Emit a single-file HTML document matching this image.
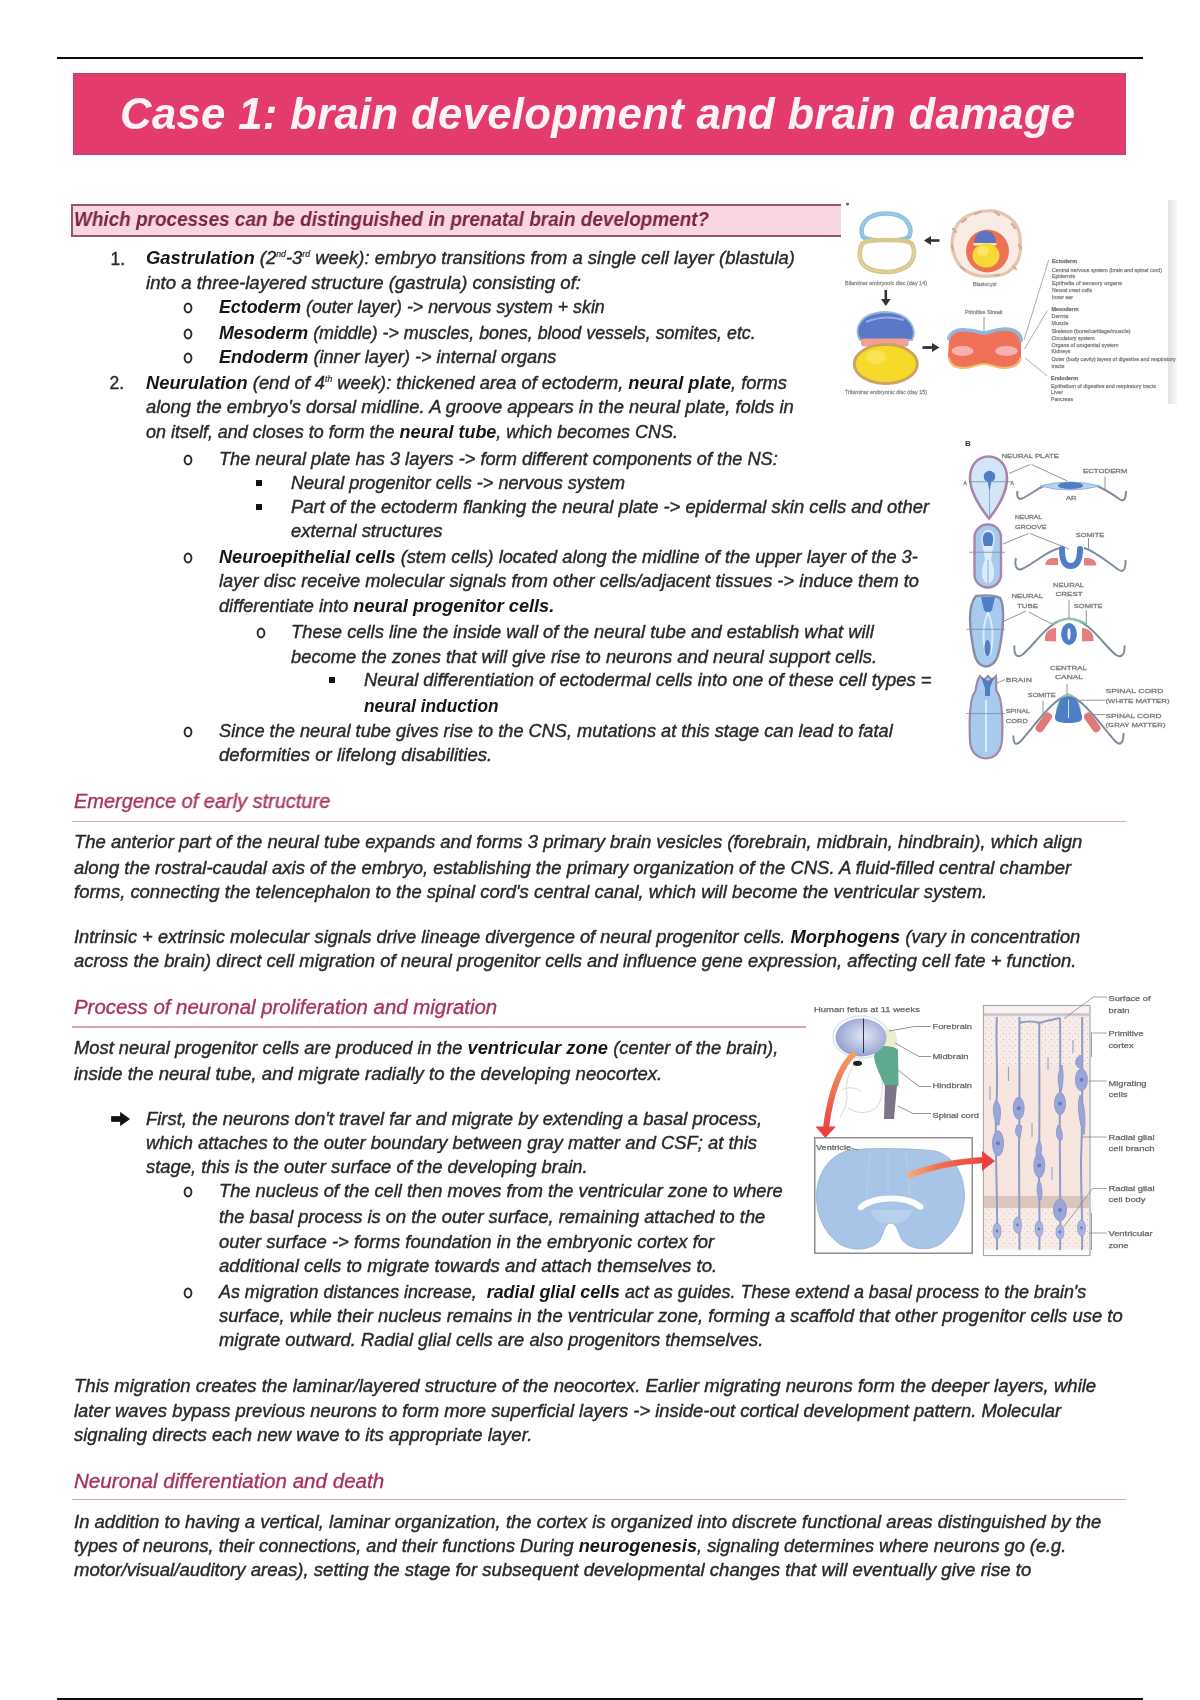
<!DOCTYPE html><html><head><meta charset="utf-8"><title>Case 1</title><style>
*{margin:0;padding:0;box-sizing:border-box}
html,body{width:1200px;height:1700px;background:#fff;overflow:hidden}
body{position:relative;font-family:"Liberation Sans",sans-serif;color:#2a2a2a}
#pg{position:absolute;left:0;top:0;width:1200px;height:1700px;will-change:transform}
.l{position:absolute;white-space:nowrap;font-style:italic;font-size:18px;line-height:20px;transform-origin:0 0;-webkit-text-stroke:0.4px #2a2a2a}
.l b{color:#161616;font-weight:bold;-webkit-text-stroke:0}
.l sup{font-size:8.5px;position:relative;top:-7px;vertical-align:baseline;line-height:0;-webkit-text-stroke:0.2px #2a2a2a}
.bu{position:absolute;white-space:nowrap;font-size:17.5px;line-height:20px;color:#2a2a2a;-webkit-text-stroke:0.35px #2a2a2a}
.hd{position:absolute;white-space:nowrap;font-style:italic;font-size:19px;line-height:20px;color:#B2375F;transform-origin:0 0}
.h2{font-size:20px;-webkit-text-stroke:0.35px #A8345C;color:#A8345C}
.ul{position:absolute;height:1.5px;background:#D6A4B6}
</style></head><body><div id="pg">
<div style="position:absolute;left:57px;top:57px;width:1086px;height:2px;background:#0a0a0a"></div>
<div style="position:absolute;left:57px;top:1698px;width:1086px;height:2px;background:#0a0a0a"></div>
<div style="position:absolute;left:73px;top:73px;width:1053px;height:82px;background:#E33C6C;border:1px solid #C0416A"></div>
<div id="title" class="hd" style="left:120px;top:88.75px;font-size:44.5px;line-height:50px;font-weight:bold;color:#FDF3F6;letter-spacing:0.3px;transform:scaleX(0.9829)">Case 1: brain development and brain damage</div>
<div style="position:absolute;left:71px;top:204.3px;width:770px;height:32.5px;background:#F7D6DF;border-top:2px solid #9A5470;border-bottom:2px solid #9A5470;border-left:2px solid #9A5470"></div>
<div id="q" class="hd" style="left:74px;top:209.20px;font-weight:bold;color:#7A2443;font-size:19.5px;transform:scaleX(0.9703)">Which processes can be distinguished in prenatal brain development?</div>
<div id="l0" class="l" style="left:146.00px;top:248.26px;transform:scaleX(1.0248)"><b>Gastrulation</b> (2<sup>nd</sup>-3<sup>rd</sup> week): embryo transitions from a single cell layer (blastula)</div>
<div id="l1" class="l" style="left:146.00px;top:272.51px;transform:scaleX(1.0328)">into a three-layered structure (gastrula) consisting of:</div>
<div id="l2" class="l" style="left:218.75px;top:296.76px;transform:scaleX(0.9887)"><b>Ectoderm</b> (outer layer) -&gt; nervous system + skin</div>
<div id="l3" class="l" style="left:218.75px;top:322.96px;transform:scaleX(0.9908)"><b>Mesoderm</b> (middle) -&gt; muscles, bones, blood vessels, somites, etc.</div>
<div id="l4" class="l" style="left:218.75px;top:347.06px;transform:scaleX(1.0048)"><b>Endoderm</b> (inner layer) -&gt; internal organs</div>
<div id="l5" class="l" style="left:146.00px;top:372.96px;transform:scaleX(1.0169)"><b>Neurulation</b> (end of 4<sup>th</sup> week): thickened area of ectoderm, <b>neural plate</b>, forms</div>
<div id="l6" class="l" style="left:146.00px;top:396.96px;transform:scaleX(1.0225)">along the embryo's dorsal midline. A groove appears in the neural plate, folds in</div>
<div id="l7" class="l" style="left:146.00px;top:421.76px;transform:scaleX(0.9977)">on itself, and closes to form the <b>neural tube</b>, which becomes CNS.</div>
<div id="l8" class="l" style="left:218.75px;top:448.76px;transform:scaleX(1.0108)">The neural plate has 3 layers -&gt; form different components of the NS:</div>
<div id="l9" class="l" style="left:291.00px;top:472.51px;transform:scaleX(1.0041)">Neural progenitor cells -&gt; nervous system</div>
<div id="l10" class="l" style="left:291.00px;top:496.56px;transform:scaleX(1.0227)">Part of the ectoderm flanking the neural plate -&gt; epidermal skin cells and other</div>
<div id="l11" class="l" style="left:291.00px;top:521.26px;transform:scaleX(1.0232)">external structures</div>
<div id="l12" class="l" style="left:218.75px;top:547.01px;transform:scaleX(1.0093)"><b>Neuroepithelial cells</b> (stem cells) located along the midline of the upper layer of the 3-</div>
<div id="l13" class="l" style="left:218.75px;top:571.26px;transform:scaleX(1.0148)">layer disc receive molecular signals from other cells/adjacent tissues -&gt; induce them to</div>
<div id="l14" class="l" style="left:218.75px;top:595.56px;transform:scaleX(1.0094)">differentiate into <b>neural progenitor cells.</b></div>
<div id="l15" class="l" style="left:291.00px;top:621.96px;transform:scaleX(1.0200)">These cells line the inside wall of the neural tube and establish what will</div>
<div id="l16" class="l" style="left:291.00px;top:646.56px;transform:scaleX(1.0186)">become the zones that will give rise to neurons and neural support cells.</div>
<div id="l17" class="l" style="left:363.75px;top:670.01px;transform:scaleX(1.0229)">Neural differentiation of ectodermal cells into one of these cell types =</div>
<div id="l18" class="l" style="left:363.75px;top:696.26px;transform:scaleX(0.9610)"><b>neural induction</b></div>
<div id="l19" class="l" style="left:218.75px;top:721.26px;transform:scaleX(1.0110)">Since the neural tube gives rise to the CNS, mutations at this stage can lead to fatal</div>
<div id="l20" class="l" style="left:218.75px;top:745.01px;transform:scaleX(1.0346)">deformities or lifelong disabilities.</div>
<div id="l21" class="l" style="left:73.75px;top:831.76px;transform:scaleX(1.0283)">The anterior part of the neural tube expands and forms 3 primary brain vesicles (forebrain, midbrain, hindbrain), which align</div>
<div id="l22" class="l" style="left:73.75px;top:858.26px;transform:scaleX(1.0258)">along the rostral-caudal axis of the embryo, establishing the primary organization of the CNS. A fluid-filled central chamber</div>
<div id="l23" class="l" style="left:73.75px;top:882.06px;transform:scaleX(1.0251)">forms, connecting the telencephalon to the spinal cord's central canal, which will become the ventricular system.</div>
<div id="l24" class="l" style="left:73.75px;top:926.76px;transform:scaleX(1.0165)">Intrinsic + extrinsic molecular signals drive lineage divergence of neural progenitor cells. <b>Morphogens</b> (vary in concentration</div>
<div id="l25" class="l" style="left:73.75px;top:950.76px;transform:scaleX(1.0237)">across the brain) direct cell migration of neural progenitor cells and influence gene expression, affecting cell fate + function.</div>
<div id="l26" class="l" style="left:73.75px;top:1037.76px;transform:scaleX(1.0187)">Most neural progenitor cells are produced in the <b>ventricular zone</b> (center of the brain),</div>
<div id="l27" class="l" style="left:73.75px;top:1063.76px;transform:scaleX(1.0314)">inside the neural tube, and migrate radially to the developing neocortex.</div>
<div id="l28" class="l" style="left:146.00px;top:1108.76px;transform:scaleX(1.0237)">First, the neurons don't travel far and migrate by extending a basal process,</div>
<div id="l29" class="l" style="left:146.00px;top:1132.51px;transform:scaleX(1.0212)">which attaches to the outer boundary between gray matter and CSF; at this</div>
<div id="l30" class="l" style="left:146.00px;top:1156.56px;transform:scaleX(1.0216)">stage, this is the outer surface of the developing brain.</div>
<div id="l31" class="l" style="left:218.75px;top:1181.26px;transform:scaleX(1.0152)">The nucleus of the cell then moves from the ventricular zone to where</div>
<div id="l32" class="l" style="left:218.75px;top:1207.01px;transform:scaleX(1.0166)">the basal process is on the outer surface, remaining attached to the</div>
<div id="l33" class="l" style="left:218.75px;top:1231.76px;transform:scaleX(1.0259)">outer surface -&gt; forms foundation in the embryonic cortex for</div>
<div id="l34" class="l" style="left:218.75px;top:1255.76px;transform:scaleX(1.0353)">additional cells to migrate towards and attach themselves to.</div>
<div id="l35" class="l" style="left:218.75px;top:1281.76px;transform:scaleX(0.9946)">As migration distances increase,&nbsp; <b>radial glial cells</b> act as guides. These extend a basal process to the brain's</div>
<div id="l36" class="l" style="left:218.75px;top:1305.76px;transform:scaleX(1.0253)">surface, while their nucleus remains in the ventricular zone, forming a scaffold that other progenitor cells use to</div>
<div id="l37" class="l" style="left:218.75px;top:1330.01px;transform:scaleX(1.0206)">migrate outward. Radial glial cells are also progenitors themselves.</div>
<div id="l38" class="l" style="left:73.75px;top:1376.26px;transform:scaleX(1.0310)">This migration creates the laminar/layered structure of the neocortex. Earlier migrating neurons form the deeper layers, while</div>
<div id="l39" class="l" style="left:73.75px;top:1400.76px;transform:scaleX(1.0220)">later waves bypass previous neurons to form more superficial layers -&gt; inside-out cortical development pattern. Molecular</div>
<div id="l40" class="l" style="left:73.75px;top:1425.06px;transform:scaleX(1.0285)">signaling directs each new wave to its appropriate layer.</div>
<div id="l41" class="l" style="left:73.75px;top:1511.76px;transform:scaleX(1.0277)">In addition to having a vertical, laminar organization, the cortex is organized into discrete functional areas distinguished by the</div>
<div id="l42" class="l" style="left:73.75px;top:1535.76px;transform:scaleX(1.0109)">types of neurons, their connections, and their functions During <b>neurogenesis</b>, signaling determines where neurons go (e.g.</div>
<div id="l43" class="l" style="left:73.75px;top:1559.76px;transform:scaleX(1.0332)">motor/visual/auditory areas), setting the stage for subsequent developmental changes that will eventually give rise to</div>
<div class="bu" style="left:110.50px;top:248.56px">1.</div>
<div class="bu" style="left:109.50px;top:373.26px">2.</div>
<svg style="position:absolute;left:182.00px;top:300.90px" width="12" height="14" viewBox="0 0 12 14"><ellipse cx="6" cy="7" rx="3.4" ry="4.5" fill="none" stroke="#2a2a2a" stroke-width="1.9"/></svg>
<svg style="position:absolute;left:182.00px;top:327.10px" width="12" height="14" viewBox="0 0 12 14"><ellipse cx="6" cy="7" rx="3.4" ry="4.5" fill="none" stroke="#2a2a2a" stroke-width="1.9"/></svg>
<svg style="position:absolute;left:182.00px;top:351.20px" width="12" height="14" viewBox="0 0 12 14"><ellipse cx="6" cy="7" rx="3.4" ry="4.5" fill="none" stroke="#2a2a2a" stroke-width="1.9"/></svg>
<svg style="position:absolute;left:182.00px;top:452.90px" width="12" height="14" viewBox="0 0 12 14"><ellipse cx="6" cy="7" rx="3.4" ry="4.5" fill="none" stroke="#2a2a2a" stroke-width="1.9"/></svg>
<div style="position:absolute;left:256.00px;top:479.75px;width:6px;height:6px;background:#111"></div>
<div style="position:absolute;left:256.00px;top:503.80px;width:6px;height:6px;background:#111"></div>
<svg style="position:absolute;left:182.00px;top:551.15px" width="12" height="14" viewBox="0 0 12 14"><ellipse cx="6" cy="7" rx="3.4" ry="4.5" fill="none" stroke="#2a2a2a" stroke-width="1.9"/></svg>
<svg style="position:absolute;left:254.50px;top:626.10px" width="12" height="14" viewBox="0 0 12 14"><ellipse cx="6" cy="7" rx="3.4" ry="4.5" fill="none" stroke="#2a2a2a" stroke-width="1.9"/></svg>
<div style="position:absolute;left:328.75px;top:677.25px;width:6px;height:6px;background:#111"></div>
<svg style="position:absolute;left:182.00px;top:725.40px" width="12" height="14" viewBox="0 0 12 14"><ellipse cx="6" cy="7" rx="3.4" ry="4.5" fill="none" stroke="#2a2a2a" stroke-width="1.9"/></svg>
<svg style="position:absolute;left:111.00px;top:1110.50px" width="20" height="16" viewBox="0 0 20 16"><path d="M0.5 5.6H9.5V1.5L18.5 8L9.5 14.5V10.4H0.5Z" fill="#111" stroke="#111" stroke-width="0.8" stroke-linejoin="round"/></svg>
<svg style="position:absolute;left:182.00px;top:1185.40px" width="12" height="14" viewBox="0 0 12 14"><ellipse cx="6" cy="7" rx="3.4" ry="4.5" fill="none" stroke="#2a2a2a" stroke-width="1.9"/></svg>
<svg style="position:absolute;left:182.00px;top:1285.90px" width="12" height="14" viewBox="0 0 12 14"><ellipse cx="6" cy="7" rx="3.4" ry="4.5" fill="none" stroke="#2a2a2a" stroke-width="1.9"/></svg>
<div id="h0" class="hd h2" style="left:73.75px;top:790.90px;transform:scaleX(0.9979)">Emergence of early structure</div>
<div class="ul" style="left:72px;top:820.7px;width:1054.0px"></div>
<div id="h1" class="hd h2" style="left:73.75px;top:997.15px;transform:scaleX(1.0206)">Process of neuronal proliferation and migration</div>
<div class="ul" style="left:72px;top:1026.2px;width:734.0px"></div>
<div id="h2" class="hd h2" style="left:73.75px;top:1471.40px;transform:scaleX(1.0296)">Neuronal differentiation and death</div>
<div class="ul" style="left:72px;top:1498.7px;width:1054.0px"></div>
<svg style="position:absolute;left:0;top:0" width="1200" height="1700" viewBox="0 0 1200 1700" font-family="Liberation Sans, sans-serif"><defs>
 <linearGradient id="shadowG" x1="0" x2="1" y1="0" y2="0"><stop offset="0" stop-color="#E2E2E2"/><stop offset="0.5" stop-color="#ECECEC"/><stop offset="1" stop-color="#F8F8F8"/></linearGradient>
 <radialGradient id="headG" cx="0.55" cy="0.45" r="0.6"><stop offset="0" stop-color="#E2E8F8"/><stop offset="1" stop-color="#8D9CCD"/></radialGradient>
 <linearGradient id="arrG1" x1="0" y1="0" x2="0" y2="1"><stop offset="0" stop-color="#F0A060"/><stop offset="1" stop-color="#EE4545"/></linearGradient>
 <linearGradient id="arrG2" x1="0" y1="0" x2="1" y2="0"><stop offset="0" stop-color="#F2B080"/><stop offset="0.4" stop-color="#F07050"/><stop offset="1" stop-color="#EE4040"/></linearGradient>
 <pattern id="speck" width="6" height="6" patternUnits="userSpaceOnUse"><rect width="6" height="6" fill="#F8ECE8"/><circle cx="1.5" cy="1.5" r="0.6" fill="#E0A8A8"/><circle cx="4.5" cy="4" r="0.5" fill="#E6B8B8"/></pattern>
</defs><!-- FIG 1: gastrulation -->
<g id="fig1">
 <rect x="1168" y="200" width="9" height="204" fill="url(#shadowG)"/>
 <circle cx="847.5" cy="204" r="1.6" fill="#666"/>
 <!-- blue ring & yellow ring -->
 <path d="M862.5 236 C859 226 866 213.5 886 213.5 C906 213.5 913 226 909.5 236 C907 240 897 240.5 886 240.5 C875 240.5 865 240 862.5 236 Z" fill="#fff" stroke="#8DC1DF" stroke-width="4.6"/>
 <path d="M862.5 236 C859 226 866 213.5 886 213.5 C906 213.5 913 226 909.5 236" fill="none" stroke="#B5D8EC" stroke-width="1.2" stroke-dasharray="1.2 1.2"/>
 <path d="M862 244 C866 240 876 240 887 240 C898 240 908 240 912 244 C916 252 914 262 906 267 C899 271 893 272 887 272 C881 272 872 271 866 267 C859 262 858 252 862 244 Z" fill="#fff" stroke="#D8C88E" stroke-width="4.6"/>
 <path d="M862 244 C858 252 859 262 866 267 C872 271 881 272 887 272 C893 272 899 271 906 267 C914 262 916 252 912 244" fill="none" stroke="#EDE2B8" stroke-width="1.2" stroke-dasharray="1.2 1.2"/>
 <text x="845" y="285" font-size="5.5" fill="#777" stroke="#999" stroke-width="0.3" textLength="82" lengthAdjust="spacingAndGlyphs">Bilaminar embryonic disc (day 14)</text>
 <!-- arrows -->
 <path d="M939.5 240.5 H930" stroke="#333" stroke-width="2.6"/>
 <path d="M924 240.5 L931 236 L931 245 Z" fill="#333"/>
 <path d="M885.8 290 V300" stroke="#333" stroke-width="2.6"/>
 <path d="M885.8 306 L881 299 L890.6 299 Z" fill="#333"/>
 <path d="M922.5 347.5 H933" stroke="#333" stroke-width="2.8"/>
 <path d="M939.5 347.5 L932 343 L932 352 Z" fill="#333"/>
 <!-- blastocyst -->
 <path d="M986 211 C996 209 1004 214 1010 218 C1017 223 1021 233 1020 243 C1022 255 1017 266 1008 272 C1000 277 990 276 980 276 C969 274 959 268 955 257 C950 247 952 234 957 225 C963 216 974 212 986 211 Z" fill="#F8ECE5" stroke="#E3C5B2" stroke-width="3.2"/>
 <path d="M962 222 l4 -3 M975 214 l5 -2 M995 212 l4 3 M1012 224 l3 4 M1019 245 l2 4 M1013 266 l3 3 M995 275 l4 0 M965 270 l-4 -3 M953 250 l-1 -5 M956 232 l-3 -3" stroke="#D4AC96" stroke-width="2.2" stroke-linecap="round"/>
 <circle cx="987.5" cy="251" r="21.5" fill="#EC7352"/>
 <path d="M974 244 Q975 231 985 231 Q996 231 996 244 Z" fill="#5C73C2"/>
 <rect x="973.5" y="243" width="23" height="2.5" fill="#F5E8A0"/>
 <ellipse cx="986" cy="255.5" rx="13.5" ry="12" fill="#F8D835"/>
 <ellipse cx="983" cy="251" rx="6" ry="5" fill="#FBEA80" opacity="0.7"/>
 <text x="973" y="286" font-size="5.5" fill="#777" stroke="#999" stroke-width="0.3" textLength="23.5" lengthAdjust="spacingAndGlyphs">Blastocyst</text>
 <!-- trilaminar -->
 <path d="M860 340 C854 330 858 313 885 312 C910 312 918 330 912 340 Z" fill="#5A78C8" stroke="#97BADC" stroke-width="1.8"/>
 <path d="M866 322 Q885 314 904 320" stroke="#A8B8EA" stroke-width="2" fill="none" opacity="0.8"/>
 <rect x="861" y="338.5" width="47.5" height="8" rx="3" fill="#F2A090"/>
 <ellipse cx="885.8" cy="364" rx="31.5" ry="19.5" fill="#F6DA2A" stroke="#CDA362" stroke-width="3"/>
 <ellipse cx="876" cy="357" rx="10" ry="7" fill="#FBEA70" opacity="0.6"/>
 <text x="845" y="393.5" font-size="5.5" fill="#777" stroke="#999" stroke-width="0.3" textLength="82" lengthAdjust="spacingAndGlyphs">Trilaminar embryonic disc (day 15)</text>
 <!-- disc -->
 <text x="965" y="314" font-size="5" fill="#777" stroke="#999" stroke-width="0.3" textLength="37.5" lengthAdjust="spacingAndGlyphs">Primitive Streak</text>
 <path d="M984 317 V331" stroke="#777" stroke-width="0.8"/>
 <path d="M949 340 C948 333 957 329 966 330 C975 330 980 333 984 333 C989 333 995 329 1005 329 C1015 329 1022 334 1021 342 L1021 358 C1021 366 1012 369 1003 368 C995 367 990 364 984 364 C978 364 972 368 963 368 C954 368 948 363 948 356 Z" fill="#EE7158"/>
 <path d="M949 340 C948 333 957 329 966 330 C975 330 980 333 984 333 C989 333 995 329 1005 329 C1015 329 1022 334 1021 342" stroke="#8FB7DD" stroke-width="3.5" fill="none"/>
 <path d="M948.5 357 C950 366 958 368 964 368 C972 368 978 364 984 364 C990 364 996 368 1004 368 C1013 368 1020 364 1021 357" stroke="#F2C070" stroke-width="2" fill="none"/>
 <ellipse cx="962.5" cy="351" rx="11" ry="5" fill="#F6B0B0"/>
 <ellipse cx="1006.5" cy="351" rx="11.5" ry="5" fill="#F6B0B0"/>
 <path d="M1024 340 L1048.7 260 M1024.5 349 L1047.3 310.7 M1025 358 L1047.3 376" stroke="#8a8a8a" stroke-width="0.7" fill="none"/>
 <g font-size="6" fill="#666" stroke="#888" stroke-width="0.25">
  <text x="1052" y="263" font-weight="bold" fill="#555" textLength="25" lengthAdjust="spacingAndGlyphs">Ectoderm</text>
  <text x="1052" y="271.5" textLength="110" lengthAdjust="spacingAndGlyphs">Central nervous system (brain and spinal cord)</text>
  <text x="1052" y="277.5" textLength="23" lengthAdjust="spacingAndGlyphs">Epidermis</text>
  <text x="1052" y="285" textLength="70" lengthAdjust="spacingAndGlyphs">Epithelia of sensory organs</text>
  <text x="1052" y="292" textLength="40" lengthAdjust="spacingAndGlyphs">Neural crest cells</text>
  <text x="1052" y="299" textLength="21" lengthAdjust="spacingAndGlyphs">Inner ear</text>
  <text x="1051.5" y="311" font-weight="bold" fill="#555" textLength="27" lengthAdjust="spacingAndGlyphs">Mesoderm</text>
  <text x="1051.5" y="317.5" textLength="17" lengthAdjust="spacingAndGlyphs">Dermis</text>
  <text x="1051.5" y="325" textLength="17" lengthAdjust="spacingAndGlyphs">Muscle</text>
  <text x="1051.5" y="333" textLength="79" lengthAdjust="spacingAndGlyphs">Skeleton (bone/cartilage/muscle)</text>
  <text x="1051.5" y="339.5" textLength="43" lengthAdjust="spacingAndGlyphs">Circulatory system</text>
  <text x="1051.5" y="347" textLength="67" lengthAdjust="spacingAndGlyphs">Organs of urogenital system</text>
  <text x="1051.5" y="353" textLength="19" lengthAdjust="spacingAndGlyphs">Kidneys</text>
  <text x="1051.5" y="361" textLength="124" lengthAdjust="spacingAndGlyphs">Outer (body cavity) layers of digestive and respiratory</text>
  <text x="1051.5" y="367.5" textLength="13" lengthAdjust="spacingAndGlyphs">tracts</text>
  <text x="1051" y="379.5" font-weight="bold" fill="#555" textLength="27" lengthAdjust="spacingAndGlyphs">Endoderm</text>
  <text x="1051" y="388" textLength="105" lengthAdjust="spacingAndGlyphs">Epithelium of digestive and respiratory tracts</text>
  <text x="1051" y="394" textLength="12" lengthAdjust="spacingAndGlyphs">Liver</text>
  <text x="1051" y="401" textLength="22" lengthAdjust="spacingAndGlyphs">Pancreas</text>
 </g>
</g>
<!-- FIG 2: neurulation -->
<g id="fig2">
 <text x="965" y="446" font-size="8" font-weight="bold" fill="#333">B</text>
 <g font-size="6" fill="#666" stroke="#888" stroke-width="0.3" font-family="Liberation Sans">
  <text x="1001.5" y="458" textLength="57.5" lengthAdjust="spacingAndGlyphs">NEURAL PLATE</text>
  <text x="1083" y="472.5" textLength="44.5" lengthAdjust="spacingAndGlyphs">ECTODERM</text>
  <text x="1066" y="499.5" font-size="5" textLength="10.5" lengthAdjust="spacingAndGlyphs">AR</text>
  <text x="963.5" y="485" font-size="5">A</text><text x="1010.5" y="485" font-size="5">A</text>
  <text x="1015" y="519" textLength="27" lengthAdjust="spacingAndGlyphs">NEURAL</text>
  <text x="1015" y="529" textLength="31.5" lengthAdjust="spacingAndGlyphs">GROOVE</text>
  <text x="1075.7" y="536.5" textLength="28.5" lengthAdjust="spacingAndGlyphs">SOMITE</text>
  <text x="1053" y="587" textLength="31" lengthAdjust="spacingAndGlyphs">NEURAL</text>
  <text x="1055.6" y="596" textLength="27" lengthAdjust="spacingAndGlyphs">CREST</text>
  <text x="1011.5" y="598" textLength="31.5" lengthAdjust="spacingAndGlyphs">NEURAL</text>
  <text x="1017" y="607.5" textLength="21" lengthAdjust="spacingAndGlyphs">TUBE</text>
  <text x="1073.8" y="608" textLength="28.8" lengthAdjust="spacingAndGlyphs">SOMITE</text>
  <text x="1050" y="669.5" textLength="37" lengthAdjust="spacingAndGlyphs">CENTRAL</text>
  <text x="1055" y="679" textLength="28" lengthAdjust="spacingAndGlyphs">CANAL</text>
  <text x="1005.8" y="682" textLength="26" lengthAdjust="spacingAndGlyphs">BRAIN</text>
  <text x="1027.8" y="697" textLength="27.8" lengthAdjust="spacingAndGlyphs">SOMITE</text>
  <text x="1105.5" y="692.5" textLength="58" lengthAdjust="spacingAndGlyphs">SPINAL CORD</text>
  <text x="1105.5" y="703" textLength="64" lengthAdjust="spacingAndGlyphs">(WHITE MATTER)</text>
  <text x="1005.8" y="712.5" textLength="24" lengthAdjust="spacingAndGlyphs">SPINAL</text>
  <text x="1005.8" y="723" textLength="22" lengthAdjust="spacingAndGlyphs">CORD</text>
  <text x="1105.5" y="717.5" textLength="56" lengthAdjust="spacingAndGlyphs">SPINAL CORD</text>
  <text x="1105.5" y="727" textLength="60" lengthAdjust="spacingAndGlyphs">(GRAY MATTER)</text>
 </g>
 <!-- embryo 1 -->
 <path d="M988.5 456.5 C1000 456.5 1007 466 1007 478 C1007 492 999 506 989 518.5 C979 506 970 492 970 478 C970 466 977 456.5 988.5 456.5 Z" fill="#D3E6F7" stroke="#A984A6" stroke-width="2.6"/>
 <circle cx="989.5" cy="476.5" r="5.8" fill="#4F7DC6"/>
 <path d="M987.5 480 L989.5 492 L991.5 480 Z" fill="#4F7DC6"/>
 <path d="M989.5 490 V516" stroke="#8FB0D8" stroke-width="1"/>
 <path d="M969 481.75 H1011" stroke="#7A8A9A" stroke-width="0.8"/>
 <!-- leaders row1 -->
 <path d="M1030 464.5 L1009 473.5 M1031.5 464.5 L1067.5 481 M1105 476.5 V490" stroke="#666" stroke-width="0.7" fill="none"/>
 <!-- cross 1 -->
 <path d="M1017.5 491 C1016.5 497 1018 500 1022 498.5 C1030 495 1038 488 1045 485.5 L1097 486 C1105 489 1115 496 1120 499.5 C1124 502 1126 499 1126 491" stroke="#7E8E9E" stroke-width="2" fill="none"/>
 <path d="M1040 486 Q1070 478 1100 486 Q1070 494 1040 486 Z" fill="#B8D4F0" stroke="#8FB5E0" stroke-width="1"/>
 <ellipse cx="1070.5" cy="485.5" rx="12.5" ry="3.6" fill="#4F7DC6"/>
 <!-- embryo 2 -->
 <rect x="974.5" y="524.5" width="26.5" height="63" rx="13" fill="#A6CBEF" stroke="#A786A8" stroke-width="2.4"/>
 <path d="M983 548 C979 535 984 530 988 530 C993 530 997 535 993 548 L991 560 C996 570 995 582 988 584 C981 582 980 570 985 560 Z" fill="#DCEBFA"/>
 <path d="M984 546 C981 536 984 532 988 532 C992 532 995 536 992 546 Z" fill="#4F7DC6"/>
 <path d="M988 560 V584" stroke="#8FB0D8" stroke-width="1"/>
 <path d="M969 552.25 H1005" stroke="#7A8A9A" stroke-width="0.8"/>
 <path d="M1028.5 533.5 L1003 544 M1030 533.5 L1069 549 M1088.5 538 V550" stroke="#666" stroke-width="0.7" fill="none"/>
 <!-- cross 2 -->
 <path d="M1016 558 C1014 566 1017 571 1022 569 C1035 563 1048 550 1060 548 M1084 548 C1095 551 1110 564 1119 570 C1124 573 1126 568 1125.5 560" stroke="#7E8E9E" stroke-width="2" fill="none"/>
 <path d="M1062 549 C1062 560 1064 566 1070.5 566 C1077 566 1080 560 1080 549" stroke="#4F7DC6" stroke-width="6" fill="none" stroke-linecap="round"/>
 <path d="M1045 565 C1046 559 1050 557.5 1058 558 L1058 565 Z" fill="#E57E7E"/>
 <path d="M1084 558 C1092 557.5 1096 560 1096.5 565.5 L1084 565.5 Z" fill="#E57E7E"/>
 <!-- embryo 3 -->
 <path d="M976 596 C985 595 995 595 1000 598 C1004 604 1004 622 1001 640 C999 655 996 666 986 666.5 C976 666 974 655 972 640 C969 622 969 604 976 596 Z" fill="#A6CBEF" stroke="#8D8AA6" stroke-width="2.4"/>
 <path d="M981 597 H995 L992 610 Q988 616 984 610 Z" fill="#4F7DC6"/>
 <path d="M988 612 C983 625 982 640 986 655 M988 612 C993 625 994 640 990 655" stroke="#DCEBFA" stroke-width="2" fill="none"/>
 <ellipse cx="987.5" cy="648" rx="3" ry="8" fill="#4F7DC6"/>
 <path d="M966.5 629.3 H1004.8" stroke="#7A8A9A" stroke-width="0.8"/>
 <path d="M1026 611 L1003 621.6 M1028.8 612 L1052.8 624.5 M1069 599.6 V618.5 M1086.3 610 V625.5" stroke="#666" stroke-width="0.7" fill="none"/>
 <!-- cross 3 -->
 <path d="M1014.5 645.5 C1013.5 655 1017 658 1022 655 C1035 645 1048 620 1069 618.5 C1090 620 1103 645 1116 655 C1121 658 1125 655 1124.5 645.5" stroke="#7E8E9E" stroke-width="2" fill="none"/>
 <path d="M1052 624 Q1069 614 1087 624" stroke="#8CC8A8" stroke-width="2" fill="none"/>
 <ellipse cx="1069" cy="634" rx="7.8" ry="11" fill="#4F7DC6"/>
 <ellipse cx="1069" cy="634" rx="1.6" ry="6" fill="#EAF2FC"/>
 <path d="M1056 628 C1048 628 1044 634 1045 641 L1056 641.5 Z" fill="#E57E7E"/>
 <path d="M1082 628 C1090 628 1094 634 1093.5 641 L1082 641.5 Z" fill="#E57E7E"/>
 <!-- embryo 4 -->
 <path d="M980 676 L984 680 L988 676 L992 680 L996 676 C997 683 995 688 997 692 C1002 697 1003 720 1002 740 C1001 752 995 758 986 758.5 C977 758 970 752 970 740 C969 720 970 697 975 692 C977 688 975 683 980 676 Z" fill="#A6CBEF" stroke="#9C8AA8" stroke-width="2.2"/>
 <path d="M981 677 L985 688 L985 696 L990 696 L990 688 L994 677 L988 681 Z" fill="#4F7DC6"/>
 <path d="M986 700 V752" stroke="#DCEBFA" stroke-width="2"/>
 <path d="M966 713.6 H1005" stroke="#7A8A9A" stroke-width="0.8"/>
 <path d="M997 683 L1005 679.5 M1067 684 V697 M1043 701 V714.6 M1079.6 700.2 H1105.5 M1089 714.6 H1105.5" stroke="#666" stroke-width="0.7" fill="none"/>
 <!-- cross 4 -->
 <path d="M1013.5 735.5 C1013 744 1016 746 1021 741 C1035 725 1052 700 1068 694.5 C1084 700 1101 725 1115 741 C1120 746 1123.5 744 1123.5 733" stroke="#7E8E9E" stroke-width="2" fill="none"/>
 <path d="M1058 720 C1055 710 1060 696 1068.5 695 C1077 696 1082 710 1079 720" stroke="#8CC8A8" stroke-width="2.5" fill="none"/>
 <path d="M1060 700 C1064 695 1073 695 1077 700 L1082 716 C1083 721 1079 723 1068.5 723 C1058 723 1054 721 1055 716 Z" fill="#4F7DC6"/>
 <path d="M1068.5 700 V718" stroke="#CFE0F6" stroke-width="1"/>
 <rect x="1039.5" y="711.5" width="8.5" height="22" rx="4" fill="#E07A7A" transform="rotate(35 1044 722.5)"/>
 <rect x="1088" y="711.5" width="8.5" height="22" rx="4" fill="#E07A7A" transform="rotate(-35 1092 722.5)"/>
</g>
<!-- FIG 3: migration -->
<g id="fig3" font-family="Liberation Sans">
 <text x="814" y="1012" font-size="7" fill="#555" stroke="#777" stroke-width="0.25" textLength="106" lengthAdjust="spacingAndGlyphs">Human fetus at 11 weeks</text>
 <!-- fetus body outline -->
 <path d="M862 1058 C850 1065 845 1080 847 1095 C848 1105 842 1112 840 1118 M880 1070 C884 1085 883 1100 876 1108 C868 1114 856 1114 848 1108 M842 1090 C848 1086 858 1088 862 1092" stroke="#D8D8D8" stroke-width="1" fill="none"/>
 <ellipse cx="861" cy="1037" rx="28" ry="21" fill="none" stroke="#DDE4F2" stroke-width="1.5"/>
 <!-- brain parts -->
 <path d="M898.5 1086 L885 1086 C880 1075 875 1065 874 1057 L876 1047 C885 1045 895 1046 898 1050 Z" fill="#5EAA8E"/>
 <path d="M884.5 1046 L884.5 1030 C890 1027 896 1030 897 1038 L897 1047 Z" fill="#E9F0CC"/>
 <ellipse cx="861" cy="1037.5" rx="25.5" ry="19" fill="url(#headG)"/>
 <path d="M863.5 1018.5 V1053" stroke="#222" stroke-width="0.9"/>
 <path d="M885 1085 L897 1085 L894 1119 L884 1119 Z" fill="#7E7488"/>
 <ellipse cx="857.5" cy="1063.3" rx="4.5" ry="2.6" fill="#222"/>
 <!-- labels -->
 <g font-size="7" fill="#555" stroke="#777" stroke-width="0.25">
  <text x="932.5" y="1029" textLength="39.5" lengthAdjust="spacingAndGlyphs">Forebrain</text>
  <text x="932.5" y="1058.5" textLength="36" lengthAdjust="spacingAndGlyphs">Midbrain</text>
  <text x="932.5" y="1087.5" textLength="39.5" lengthAdjust="spacingAndGlyphs">Hindbrain</text>
  <text x="932.5" y="1117.5" textLength="46.5" lengthAdjust="spacingAndGlyphs">Spinal cord</text>
 </g>
 <path d="M889 1031 L914.5 1026.5 H931 M895 1043 L919 1056.5 H931 M898 1070 L919 1086.5 H931 M898 1106 L913 1113.5 H931 " stroke="#777" stroke-width="0.8" fill="none"/>
 <!-- red arrow 1 -->
 <path d="M855 1053 C840 1065 830 1095 826 1128" stroke="url(#arrG1)" stroke-width="6" fill="none"/>
 <path d="M815.5 1126.5 L836 1126.5 L825.3 1138 Z" fill="#EE4040"/>
 <!-- box with brain slice -->
 <rect x="814.75" y="1137.75" width="157.5" height="115.5" fill="#fff" stroke="#8E8E8E" stroke-width="1.5"/>
 <path d="M850 1150 C870 1148 910 1148 935 1151 C955 1156 964 1175 964.5 1195 C964.5 1215 955 1232 942 1243 C930 1252 910 1250 902 1240 C898 1232 897 1224 891 1223 C885 1223 884 1232 880 1240 C872 1251 850 1252 838 1243 C824 1232 816 1215 816.5 1195 C817 1175 828 1155 850 1150 Z" fill="#A8C4E6" stroke="#98B0D0" stroke-width="0.8"/>
 <path d="M870 1210 C876 1222 880 1225 891 1223 C902 1225 908 1220 913 1210 Z" fill="#B8D0EC"/>
 <path d="M859 1205 C872 1193 908 1192 923 1205 C925 1209 921 1211 918 1209 C905 1199 876 1199 862 1210 C859 1211 856 1208 859 1205 Z" fill="#fff"/>
 <path d="M870 1152 L866 1200 M888 1150 L888 1195 M906 1152 L910 1198" stroke="#C0D6F0" stroke-width="1" fill="none" opacity="0.6"/>
 <!-- right panel -->
 <rect x="983.5" y="1005.5" width="106.5" height="250" fill="#FBF2EF" stroke="#A8A8A8" stroke-width="1.2"/>
 <rect x="984" y="1013" width="105" height="3.5" fill="#C9CCD2"/>
 <rect x="984" y="1016.5" width="105" height="48" fill="url(#speck)"/>
 <rect x="984" y="1064.5" width="105" height="131" fill="#F7E6E0"/>
 <rect x="984" y="1195.7" width="105" height="12.7" fill="#DDC5BC"/>
 <rect x="984" y="1208.4" width="105" height="41" fill="url(#speck)"/>
 <rect x="984" y="1249.5" width="105" height="5.5" fill="#FAFAFA"/>
 <g stroke="#8E9CC6" stroke-width="2" fill="none">
  <path d="M997 1017 C995 1040 999 1080 996 1110 C995 1160 998 1200 997 1250"/>
  <path d="M1019.5 1017 C1019 1060 1020 1100 1019 1150 C1019 1200 1019.5 1230 1019.5 1250"/>
  <path d="M1039.3 1023 C1039 1060 1040 1110 1039 1160 C1039 1200 1040 1230 1039.3 1250"/>
  <path d="M1060 1018 C1061 1060 1059 1110 1060 1160 C1060 1200 1061 1230 1060 1250"/>
  <path d="M1082.2 1017 C1082 1060 1083 1110 1081 1160 C1081 1200 1083 1230 1082 1250"/>
  <path d="M1019.5 1023 C1025 1021 1035 1021 1039.3 1023 C1045 1021 1055 1019 1060 1018"/>
 </g>
 <g fill="#9AA5DA" stroke="#8A94C8" stroke-width="0.8">
  <ellipse cx="998" cy="1143.3" rx="5.5" ry="12.5"/>
  <ellipse cx="1018.7" cy="1108.3" rx="5.5" ry="11"/>
  <ellipse cx="1039.3" cy="1165.5" rx="5.5" ry="12"/>
  <ellipse cx="1060" cy="1103.6" rx="5.5" ry="11"/>
  <ellipse cx="1060" cy="1210" rx="6.5" ry="11"/>
  <ellipse cx="1081.4" cy="1079.8" rx="6" ry="11"/>
  <path d="M996 1100 C991 1108 994 1118 997 1125 L999 1125 C1001 1115 1002 1105 996 1100 Z"/>
  <path d="M1017 1125 C1014 1132 1016 1136 1020 1138 L1022 1126 Z"/>
  <path d="M1039 1140 C1034 1150 1036 1158 1039 1160 C1043 1150 1042 1145 1039 1140 Z"/>
  <path d="M1058 1125 C1054 1135 1058 1142 1062 1140 C1063 1135 1062 1128 1058 1125 Z"/>
  <path d="M1080 1095 C1076 1105 1080 1125 1084 1135 C1086 1120 1085 1105 1080 1095 Z"/>
  <path d="M1062 1065 C1056 1075 1058 1085 1061 1092 C1063 1085 1064 1075 1062 1065 Z"/>
  <path d="M1080 1055 C1073 1060 1075 1068 1081 1068 C1084 1062 1083 1058 1080 1055 Z"/>
  <path d="M1039 1180 C1035 1190 1038 1198 1041 1200 C1043 1192 1042 1185 1039 1180 Z"/>
 </g>
 <g fill="#A8B4E0" stroke="#8A94C8" stroke-width="0.7">
  <ellipse cx="997" cy="1231" rx="4" ry="8"/>
  <ellipse cx="1017.5" cy="1225" rx="4" ry="8"/>
  <ellipse cx="1039" cy="1229" rx="4" ry="8"/>
  <ellipse cx="1060" cy="1232" rx="4" ry="7"/>
  <ellipse cx="1081.5" cy="1228" rx="4" ry="8"/>
 </g>
 <g fill="#6A78C0">
  <circle cx="998" cy="1143.3" r="2"/><circle cx="1018.7" cy="1108.3" r="2"/><circle cx="1039.3" cy="1165.5" r="2"/>
  <circle cx="1060" cy="1103.6" r="2"/><circle cx="1060" cy="1210" r="2"/><circle cx="1081.4" cy="1079.8" r="2"/>
  <circle cx="997" cy="1231" r="1.4"/><circle cx="1017.5" cy="1225" r="1.4"/><circle cx="1039" cy="1229" r="1.4"/><circle cx="1060" cy="1232" r="1.4"/><circle cx="1081.5" cy="1228" r="1.4"/>
 </g>
 <g stroke="#9AA8C8" stroke-width="1.2">
  <path d="M990 1100 V1086 M1008.5 1081 V1067 M1032 1137 V1123 M1048 1070 V1057 M1052 1180 V1167 M1073 1053 V1040"/>
 </g>
 <text x="816" y="1150" font-size="7" fill="#555" stroke="#777" stroke-width="0.25" textLength="35" lengthAdjust="spacingAndGlyphs">Ventricle</text>
 <path d="M851 1148 L858 1150" stroke="#777" stroke-width="0.8"/>
 <!-- red arrow 2 -->
 <path d="M907 1176 C935 1165 960 1161 986 1160" stroke="url(#arrG2)" stroke-width="6" fill="none"/>
 <path d="M982 1151 L995 1161 L982 1171 Z" fill="#EE4040"/>
 <!-- right labels -->
 <g font-size="6.5" fill="#555" stroke="#777" stroke-width="0.25">
  <text x="1108.5" y="1000.5" textLength="42" lengthAdjust="spacingAndGlyphs">Surface of</text>
  <text x="1108.5" y="1012.5" textLength="21" lengthAdjust="spacingAndGlyphs">brain</text>
  <text x="1108.5" y="1036" textLength="35" lengthAdjust="spacingAndGlyphs">Primitive</text>
  <text x="1108.5" y="1048" textLength="25" lengthAdjust="spacingAndGlyphs">cortex</text>
  <text x="1108.5" y="1086" textLength="38" lengthAdjust="spacingAndGlyphs">Migrating</text>
  <text x="1108.5" y="1097" textLength="19" lengthAdjust="spacingAndGlyphs">cells</text>
  <text x="1108.5" y="1139.5" textLength="46" lengthAdjust="spacingAndGlyphs">Radial glial</text>
  <text x="1108.5" y="1150.5" textLength="46" lengthAdjust="spacingAndGlyphs">cell branch</text>
  <text x="1108.5" y="1190.5" textLength="46" lengthAdjust="spacingAndGlyphs">Radial glial</text>
  <text x="1108.5" y="1202" textLength="37" lengthAdjust="spacingAndGlyphs">cell body</text>
  <text x="1108.5" y="1235.5" textLength="44" lengthAdjust="spacingAndGlyphs">Ventricular</text>
  <text x="1108.5" y="1247.5" textLength="20" lengthAdjust="spacingAndGlyphs">zone</text>
 </g>
 <path d="M1064 1018.6 L1093.3 997 H1106.8 M1092.5 1033 H1106.8 M1088.6 1081 H1106.8 M1082 1137 H1106.8 M1064 1226.7 L1092.5 1188.6 H1106.8 M1088.6 1233 H1106.8 M1091.5 1032 V1057 M1091.5 1213 V1250" stroke="#888" stroke-width="0.8" fill="none"/>
</g>
</svg>
</div></body></html>
